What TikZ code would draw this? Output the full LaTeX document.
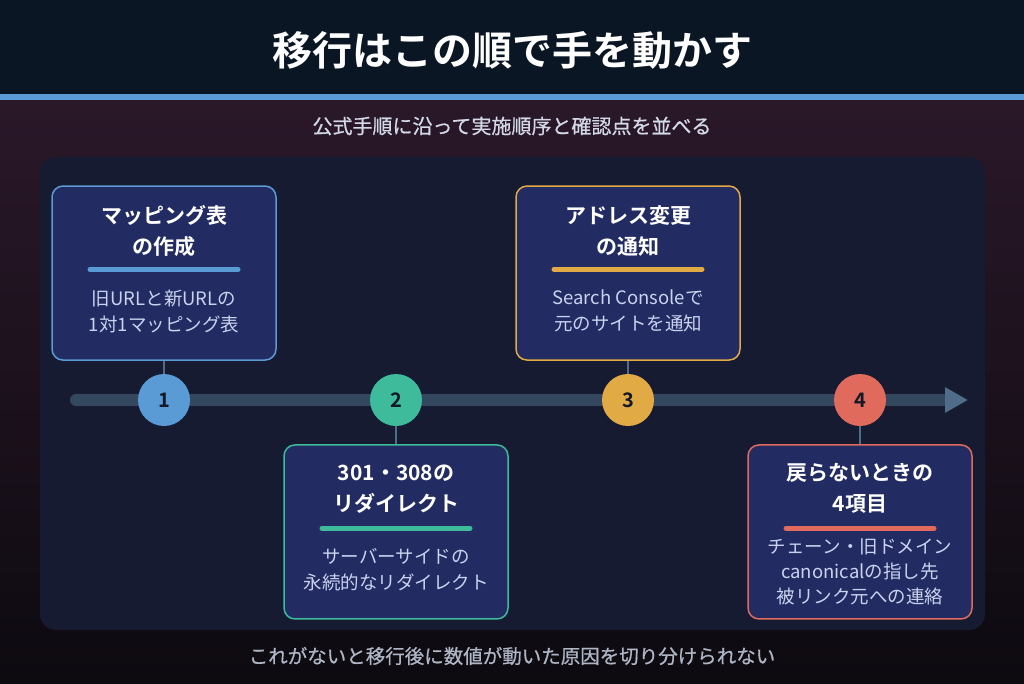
\documentclass[tikz,border=0pt]{standalone}
\usepackage{fontspec}
\setmainfont{Noto Sans CJK JP}[BoldFont={Noto Sans CJK JP Bold}]
\newfontfamily\midfont{Noto Sans CJK JP}[FakeBold=0.6]
\usetikzlibrary{positioning, calc, arrows.meta}
\definecolor{topband}{HTML}{0B1624}
\definecolor{accent}{HTML}{5B9BD5}
\definecolor{bgtop}{HTML}{2A1829}
\definecolor{bgbot}{HTML}{0D0A10}
\definecolor{panel}{HTML}{161B31}
\definecolor{boxfill}{HTML}{222B62}
\definecolor{railcol}{HTML}{33485E}
\definecolor{tipcol}{HTML}{4F6C8A}
\definecolor{subtxt}{HTML}{D3D9E8}
\definecolor{bodytxt}{HTML}{C9D3EE}
\definecolor{foottxt}{HTML}{AEB6C6}
\definecolor{numtxt}{HTML}{111827}
\definecolor{stepA}{HTML}{5B9BD5}
\definecolor{stepB}{HTML}{3DBB9A}
\definecolor{stepC}{HTML}{E2AA45}
\definecolor{stepD}{HTML}{E06B5C}

\begin{document}
\begin{tikzpicture}[x=1pt,y=-1pt,
    stepbox/.style={draw=#1, fill=boxfill, line width=1.5pt, rounded corners=11pt,
      minimum width=224pt, minimum height=174pt, inner sep=0pt},
    dot/.style={circle, fill=#1, minimum size=52pt, inner sep=0pt, text=numtxt,
      font=\bfseries\fontsize{20}{24}\selectfont},
    head/.style={text=white, align=center, font=\bfseries\fontsize{21}{31}\selectfont},
    body/.style={text=bodytxt, align=center, font=\fontsize{18.5}{26}\selectfont},
    bar/.style={draw=#1, line width=5pt, line cap=round},
    stub/.style={draw=tipcol, line width=2.5pt}]
  \useasboundingbox (0,0) rectangle (1024,683);

  % background
  \shade[top color=bgtop, bottom color=bgbot] (0,99) rectangle (1024,683);
  \fill[topband] (0,0) rectangle (1024,94);
  \fill[accent] (0,94) rectangle (1024,100);
  \fill[panel] [rounded corners=16pt] (40,157) rectangle (985,630);

  \node[text=white, font=\bfseries\fontsize{40}{44}\selectfont] (title) at (512,50) {移行はこの順で手を動かす};
  \node[text=subtxt, font=\midfont\fontsize{20}{24}\selectfont] (subtitle) at (512,126) {公式手順に沿って実施順序と確認点を並べる};

  % timeline
  \coordinate (railstart) at (76,400);
  \coordinate (railend) at (968,400);
  \draw[railcol, line width=12pt, line cap=round,
    -{Triangle[length=23pt, width=24pt, color=tipcol]}] (railstart) -- (railend);

  \node[dot=stepA] (n1) at (164,400) {1};
  \node[dot=stepB] (n2) at (396,400) {2};
  \node[dot=stepC] (n3) at (628,400) {3};
  \node[dot=stepD] (n4) at (860,400) {4};

  % step cards
  \node[stepbox=stepA, above=13pt of n1] (b1) {};
  \node[stepbox=stepB, below=18pt of n2] (b2) {};
  \node[stepbox=stepC, above=13pt of n3] (b3) {};
  \node[stepbox=stepD, below=18pt of n4] (b4) {};

  \path[stub] (b1) -- (n1);
  \path[stub] (n2) -- (b2);
  \path[stub] (b3) -- (n3);
  \path[stub] (n4) -- (b4);

  \node[head] (h1) at ($(b1.north)+(0,46)$) {マッピング表\\の作成};
  \draw[bar=stepA] ($(b1.north)+(-74,84)$) -- ($(b1.north)+(74,84)$);
  \node[body] (t1) at ($(b1.north)+(0,126)$) {旧URLと新URLの\\1対1マッピング表};

  \node[head] (h2) at ($(b2.north)+(0,45)$) {301・308の\\リダイレクト};
  \draw[bar=stepB] ($(b2.north)+(-74,84)$) -- ($(b2.north)+(74,84)$);
  \node[body] (t2) at ($(b2.north)+(0,125)$) {サーバーサイドの\\永続的なリダイレクト};

  \node[head] (h3) at ($(b3.north)+(0,46)$) {アドレス変更\\の通知};
  \draw[bar=stepC] ($(b3.north)+(-74,84)$) -- ($(b3.north)+(74,84)$);
  \node[body] (t3) at ($(b3.north)+(0,126)$) {Search Consoleで\\元のサイトを通知};

  \node[head] (h4) at ($(b4.north)+(0,44)$) {戻らないときの\\4項目};
  \draw[bar=stepD] ($(b4.north)+(-74,84)$) -- ($(b4.north)+(74,84)$);
  \node[body, font=\fontsize{18.5}{25}\selectfont] (t4) at ($(b4.north)+(0,128)$) {チェーン・旧ドメイン\\canonicalの指し先\\被リンク元への連絡};

  \node[text=foottxt, font=\midfont\fontsize{19.5}{24}\selectfont] (footer) at (512,656) {これがないと移行後に数値が動いた原因を切り分けられない};
\end{tikzpicture}
\end{document}
